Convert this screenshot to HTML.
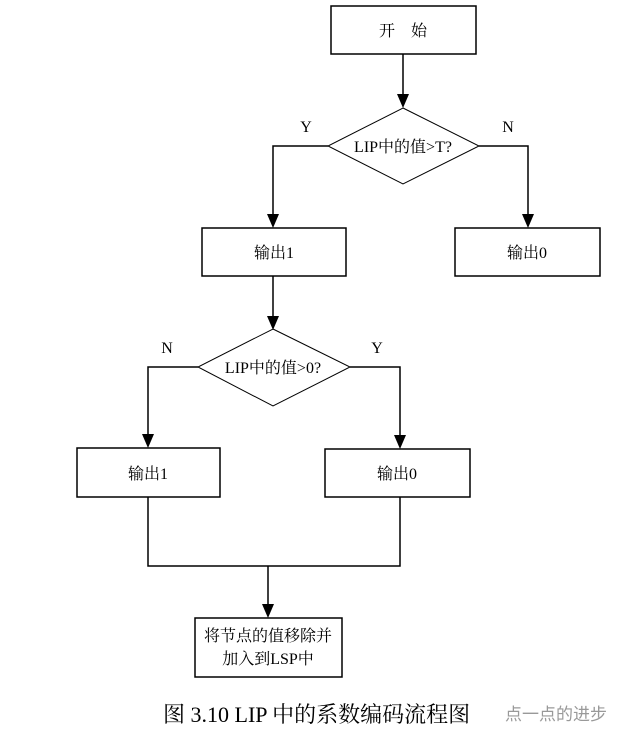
<!DOCTYPE html>
<html><head><meta charset="utf-8"><style>
html,body{margin:0;padding:0;background:#fff;width:643px;height:733px;overflow:hidden}
svg text{font-family:"Liberation Serif","Noto Serif CJK SC","Noto Sans CJK SC",serif;fill:#000}
</style></head><body>
<svg width="643" height="733" viewBox="0 0 643 733" xmlns="http://www.w3.org/2000/svg">
<defs><marker id="a" markerWidth="10" markerHeight="14" refX="5" refY="14" orient="auto" markerUnits="userSpaceOnUse"><path d="M0,0 L10,0 L5,14 Z" fill="#000" transform="rotate(-90 5 7) translate(-2 2)"/></marker></defs>
<g fill="none" stroke="#000" stroke-width="1.5">
<rect x="331" y="6" width="145" height="48"/>
<polygon points="403,108 479,146 403,184 328,146" stroke-width="1"/>
<rect x="202" y="228" width="144" height="48"/>
<rect x="455" y="228" width="145" height="48"/>
<polygon points="273,329 350,367 273,406 198,367" stroke-width="1"/>
<rect x="77" y="448" width="143" height="49"/>
<rect x="325" y="449" width="145" height="48"/>
<rect x="195" y="618" width="147" height="59"/>
<polyline points="403,54 403,96"/>
<polyline points="328,146 273,146 273,216"/>
<polyline points="479,146 528,146 528,216"/>
<polyline points="273,276 273,318"/>
<polyline points="198,367 148,367 148,436"/>
<polyline points="350,367 400,367 400,436"/>
<polyline points="148,497 148,566 400,566 400,497"/>
<polyline points="268,566 268,606"/>
</g>
<g fill="#000">
<path d="M397,94 L409,94 L403,108 Z"/>
<path d="M267,214 L279,214 L273,228 Z"/>
<path d="M522,214 L534,214 L528,228 Z"/>
<path d="M267,316 L279,316 L273,330 Z"/>
<path d="M142,434 L154,434 L148,448 Z"/>
<path d="M394,435 L406,435 L400,449 Z"/>
<path d="M262,604 L274,604 L268,618 Z"/>
</g>
<g font-size="16" text-anchor="middle">
<text x="403" y="36">开　始</text>
<text x="403" y="152">LIP中的值&gt;T?</text>
<text x="306" y="132">Y</text>
<text x="508" y="132">N</text>
<text x="274" y="258">输出1</text>
<text x="527" y="258">输出0</text>
<text x="273" y="373">LIP中的值&gt;0?</text>
<text x="167" y="353">N</text>
<text x="377" y="353">Y</text>
<text x="148" y="479">输出1</text>
<text x="397" y="479">输出0</text>
<text x="268" y="641">将节点的值移除并</text>
<text x="268" y="664">加入到LSP中</text>
</g>
<text x="163" y="722" font-size="22">图 3.10 LIP 中的系数编码流程图</text>
<text x="505" y="720" font-size="17" style="fill:#999;font-family:'Liberation Sans','Noto Sans CJK SC',sans-serif">点一点的进步</text>
</svg>
</body></html>
